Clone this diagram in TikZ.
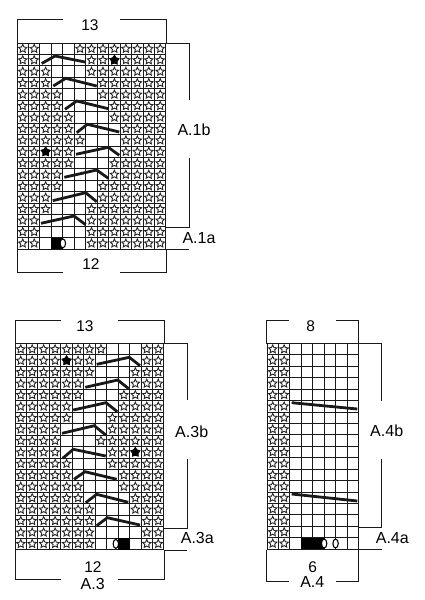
\documentclass[tikz,border=0pt]{standalone}
\usepackage{fontspec}
\setmainfont{Liberation Sans}
\usetikzlibrary{shapes.geometric}

\newcommand{\chartcells}[3]{
  \foreach \i in {0,...,18}
    \draw[gridline] (0,\i) -- (#2+1,\i);
  \pgfmathtruncatemacro{\lastline}{#2+1}
  \foreach \i in {0,...,\lastline}
    \draw[gridline] (\i,0) -- (\i,18);
  \foreach \lft/\wht [count=\r from 0] in {#3}{
    \pgfmathtruncatemacro{\rgt}{\lft+\wht}
    \foreach \c in {0,...,#2}{
      \ifnum\c<\lft
        \node[knitstar] (#1-\r-\c) at (\c+0.5,\r+0.5) {};
      \else\ifnum\c<\rgt\else
        \node[knitstar] (#1-\r-\c) at (\c+0.5,\r+0.5) {};
      \fi\fi
    }
  }
}

\begin{document}
\begin{tikzpicture}[
  x=1pt, y=-1pt,
  gridline/.style={line width=1pt, black!90},
  knitstar/.style={draw, star, star points=5, star point ratio=2.1, minimum size=8.8pt, inner sep=0pt, line width=0.9pt, black!85},
  blackstar/.style={star, star points=5, star point ratio=1.6, minimum size=11pt, inner sep=0pt, fill=black},
  yarn/.style={draw, ellipse, fill=white, line width=1.1pt, minimum width=5.4pt, minimum height=9pt, inner sep=0pt},
  solidcell/.style={fill=black},
  bar/.style={line width=2.8pt, black!90},
  bracket/.style={line width=1pt, black!90},
  count/.style={font=\fontsize{15.5}{16}\selectfont, inner sep=0pt},
  part/.style={font=\fontsize{16}{17}\selectfont, inner sep=0pt}
]
  \useasboundingbox (0,0) rectangle (424,600);

  % chart A.1
  \begin{scope}[shift={(17,43)}, x=11.46pt, y=-11.45pt]
    \chartcells{one}{12}{2/3,2/4,3/3,3/4,4/3,4/4,5/3,5/4,6/3,5/4,5/3,4/4,4/3,3/4,3/3,2/4,2/4,2/4}
    \node[blackstar] (onedotA) at (8.5,1.5) {};
    \node[blackstar] (onedotB) at (2.5,9.5) {};
    \fill[solidcell] (3,17) rectangle (4,18);
    \node[yarn] (oneyarn) at (4,17.5) {};
  \end{scope}
  \draw[bar] (41.7,63.5) -- (55,56) -- (85,62);
  \draw[bar] (53.3,86) -- (65.7,78.3) -- (96.7,86);
  \draw[bar] (65,109.3) -- (76.7,101) -- (108.3,108.7);
  \draw[bar] (76.7,132.7) -- (87.3,124.3) -- (119.3,132);
  \draw[bar] (76,154.3) -- (108.3,147.3) -- (119.3,155.3);
  \draw[bar] (64.3,177.3) -- (96.7,170) -- (108.3,178.3);
  \draw[bar] (52.7,200.7) -- (85.7,192.7) -- (96.7,201.7);
  \draw[bar] (41,223.3) -- (74,216) -- (85.7,224.7);
  \draw[bracket] (17,43) -- (17,19.5) -- (62.5,19.5);
  \draw[bracket] (120,19.5) -- (166,19.5) -- (166,43);
  \draw[bracket] (166,43) -- (189,43) -- (189,100);
  \draw[bracket] (189,157.7) -- (189,227) -- (166,227);
  \draw[bracket] (166,249) -- (189,249);
  \draw[bracket] (17,249) -- (17,272.5) -- (62.5,272.5);
  \draw[bracket] (120,272.5) -- (166,272.5) -- (166,249);
  \node[count] (onetop) at (90,25) {13};
  \node[count] (onebot) at (91,264.5) {12};
  \node[part] (oneb) at (194,130) {A.1b};
  \node[part] (onea) at (199,237.7) {A.1a};

  % chart A.3
  \begin{scope}[shift={(15,343.5)}, x=11.46pt, y=-11.45pt]
    \chartcells{three}{12}{8/3,7/4,7/3,6/4,6/3,5/4,5/3,4/4,4/3,4/4,5/3,5/4,6/3,6/4,7/3,7/4,7/4,7/4}
    \node[blackstar] (threedotA) at (4.5,1.5) {};
    \node[blackstar] (threedotB) at (10.5,9.5) {};
    \fill[solidcell] (9,17) rectangle (10,18);
    \node[yarn] (threeyarn) at (8.8,17.5) {};
  \end{scope}
  \draw[bar] (96.7,364.3) -- (129.3,357.3) -- (140,365.7);
  \draw[bar] (85.3,387.3) -- (117.7,380) -- (128.7,388.7);
  \draw[bar] (73.3,410) -- (106,402.7) -- (117.3,411.7);
  \draw[bar] (62,433.3) -- (94.3,425.7) -- (105.7,435);
  \draw[bar] (62.7,458.3) -- (73.3,449.3) -- (105.7,456);
  \draw[bar] (74,479.3) -- (85,471.7) -- (116.7,479.3);
  \draw[bar] (85.7,502.7) -- (96.7,494.3) -- (128.3,502.3);
  \draw[bar] (96.7,525.7) -- (107.3,517.7) -- (140,525);
  \draw[bracket] (15,343.5) -- (15,320.7) -- (61,320.7);
  \draw[bracket] (118,320.7) -- (164,320.7) -- (164,343.5);
  \draw[bracket] (164,343.5) -- (187,343.5) -- (187,400);
  \draw[bracket] (187,459) -- (187,528) -- (164,528);
  \draw[bracket] (164,550) -- (187,550);
  \draw[bracket] (15,550) -- (15,579.3) -- (61,579.3);
  \draw[bracket] (118,579.3) -- (164,579.3) -- (164,550);
  \node[count] (threetop) at (85,326) {13};
  \node[count] (threebot) at (93,566.7) {12};
  \node[part] (threename) at (92.7,584) {A.3};
  \node[part] (threeb) at (191.7,431.7) {A.3b};
  \node[part] (threea) at (197.3,538) {A.3a};

  % chart A.4
  \begin{scope}[shift={(267,343.5)}, x=11.43pt, y=-11.43pt]
    \chartcells{four}{7}{2/6,2/6,2/6,2/6,2/6,2/6,2/6,2/6,2/6,2/6,2/6,2/6,2/6,2/6,2/6,2/6,2/6,2/6}
    \fill[solidcell] (3,17) rectangle (5,18);
    \node[yarn] (fouryarnA) at (5,17.5) {};
    \node[yarn] (fouryarnB) at (6,17.5) {};
  \end{scope}
  \draw[bar] (291.7,402.7) -- (357.3,409);
  \draw[bar] (291.7,494) -- (357.3,501);
  \draw[bracket] (266,343.5) -- (266,320) -- (289.3,320);
  \draw[bracket] (335.7,320) -- (358.3,320) -- (358.3,343.5);
  \draw[bracket] (358.3,343.5) -- (381.7,343.5) -- (381.7,400.7);
  \draw[bracket] (381.7,459) -- (381.7,527.7) -- (358.3,527.7);
  \draw[bracket] (358.3,549.5) -- (381.7,549.5);
  \draw[bracket] (266,549.5) -- (266,581.7) -- (289.3,581.7);
  \draw[bracket] (335.7,581.7) -- (358.3,581.7) -- (358.3,549.5);
  \node[count] (fourtop) at (310.7,326) {8};
  \node[count] (fourbot) at (312.7,566.7) {6};
  \node[part] (fourname) at (312.3,582.3) {A.4};
  \node[part] (fourb) at (386.7,430.7) {A.4b};
  \node[part] (foura) at (392.3,538.3) {A.4a};
\end{tikzpicture}
\end{document}
